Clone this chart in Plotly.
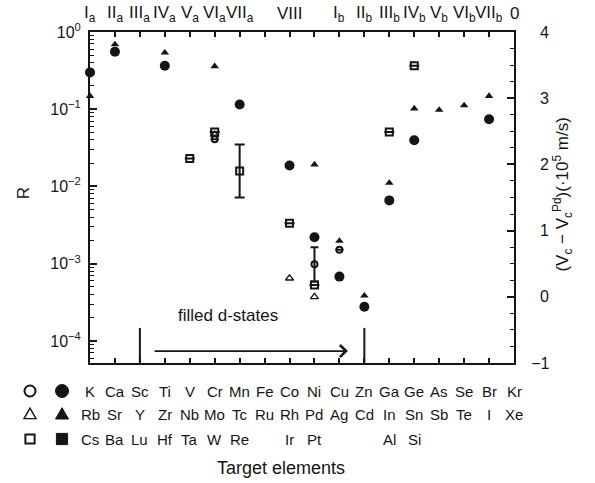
import plotly.graph_objects as go

# ---- element table (columns = periodic-table groups) ----
period4 = ["K", "Ca", "Sc", "Ti", "V", "Cr", "Mn", "Fe", "Co", "Ni", "Cu", "Zn",
           "Ga", "Ge", "As", "Se", "Br", "Kr"]
period5 = ["Rb", "Sr", "Y", "Zr", "Nb", "Mo", "Tc", "Ru", "Rh", "Pd", "Ag", "Cd",
           "In", "Sn", "Sb", "Te", "I", "Xe"]
period6 = ["Cs", "Ba", "Lu", "Hf", "Ta", "W", "Re", "", "Ir", "Pt", "", "",
           "Al", "Si", "", "", "", ""]
group_labels = ["I<sub>a</sub>", "II<sub>a</sub>", "III<sub>a</sub>", "IV<sub>a</sub>",
                "V<sub>a</sub>", "VI<sub>a</sub>", "VII<sub>a</sub>", "VIII",
                "I<sub>b</sub>", "II<sub>b</sub>", "III<sub>b</sub>", "IV<sub>b</sub>",
                "V<sub>b</sub>", "VI<sub>b</sub>", "VII<sub>b</sub>", "0"]
group_cols = [0, 1, 2, 3, 4, 5, 6, 8, 10, 11, 12, 13, 14, 15, 16, 17]

# ---- R (left axis): filled symbols ----
circ_targets = ["K", "Ca", "Ti", "Mn", "Co", "Ni", "Cu", "Zn", "Ga", "Ge", "Br"]
circ_R = [0.30, 0.555, 0.365, 0.115, 0.0187, 0.0022, 0.00068, 0.000277,
          0.0066, 0.0396, 0.074]
tri_targets = ["Rb", "Sr", "Zr", "Mo", "Pd", "Ag", "Cd", "In", "Sn", "Sb", "Te", "I"]
tri_R = [0.148, 0.69, 0.54, 0.36, 0.0192, 0.00197, 0.000385, 0.0111,
         0.102, 0.098, 0.112, 0.148]

# ---- velocity difference (right axis): open symbols ----
ocirc_targets = ["Cr", "Ni", "Cu"]
ocirc_dv = [2.38, 0.49, 0.71]
ocirc_err = [None, 0.26, None]
otri_targets = ["Mo", "Rh", "Pd"]
otri_dv = [2.45, 0.28, 0.0]
osq_targets = ["Ta", "W", "Re", "Ir", "Pt", "Al", "Si"]
osq_dv = [2.09, 2.49, 1.90, 1.11, 0.18, 2.49, 3.49]
osq_err = [None, None, 0.40, None, None, None, None]

left_ticks = [1e-4, 1e-3, 1e-2, 1e-1, 1]
left_ticktext = ["10<sup>−4</sup>", "10<sup>−3</sup>", "10<sup>−2</sup>",
                 "10<sup>−1</sup>", "10<sup>0</sup>"]
right_ticks = [-1, 0, 1, 2, 3, 4]
right_ticktext = ["−1", "\u20070", "\u20071", "\u20072", "\u20073", "\u20074"]

INK = "#151515"
FONT = "Liberation Sans, Arial, Helvetica, sans-serif"

# frame geometry in pixels (used for the symbol key beside the table)
PLOT_L, PLOT_R, PLOT_T, PLOT_B = 90, 514, 32, 363


def col(name):
    for row in (period4, period5, period6):
        if name in row:
            return row.index(name)


def px_to_paper(px, py):
    return ((px - PLOT_L) / (PLOT_R - PLOT_L), (PLOT_B - py) / (PLOT_B - PLOT_T))


fig = go.Figure()

fig.add_trace(go.Scatter(
    x=[col(t) for t in circ_targets], y=circ_R, mode="markers",
    marker=dict(symbol="circle", size=10, color=INK), cliponaxis=False,
    showlegend=False))
fig.add_trace(go.Scatter(
    x=[col(t) for t in tri_targets], y=tri_R, mode="markers",
    marker=dict(symbol="triangle-up", size=7.5, color=INK), cliponaxis=False,
    showlegend=False))

fig.add_trace(go.Scatter(
    x=[col(t) for t in osq_targets], y=osq_dv, yaxis="y2", mode="markers",
    marker=dict(symbol="square-open", size=7, color=INK, line=dict(width=2)),
    error_y=dict(type="data", array=osq_err, color=INK, thickness=2, width=5),
    cliponaxis=False, showlegend=False))
fig.add_trace(go.Scatter(
    x=[col(t) for t in otri_targets], y=otri_dv, yaxis="y2", mode="markers",
    marker=dict(symbol="triangle-up-open", size=7, color=INK, line=dict(width=1.3)),
    cliponaxis=False, showlegend=False))
fig.add_trace(go.Scatter(
    x=[col(t) for t in ocirc_targets], y=ocirc_dv, yaxis="y2", mode="markers",
    marker=dict(symbol="circle-open", size=6, color=INK, line=dict(width=2)),
    error_y=dict(type="data", array=ocirc_err, color=INK, thickness=2, width=4),
    cliponaxis=False, showlegend=False))

# symbol key beside the element table: pixel-sized shapes anchored in paper space
key_rows_py = [391, 414, 439]
key_cols_px = [30, 62]
key_paths = [
    # (open, filled) per row: circle, triangle, square
    ("circle", 5.5, 6.5),
    ("M-6,-4.6 L6,-4.6 L0,5.8 Z", "M-6.5,-5 L6.5,-5 L0,6.3 Z"),
    ("M-4.6,-4.6 H4.6 V4.6 H-4.6 Z", "M-5.6,-5.6 H5.6 V5.6 H-5.6 Z"),
]
for r, py in enumerate(key_rows_py):
    for k, px in enumerate(key_cols_px):
        xa, ya = px_to_paper(px, py)
        filled = k == 1
        common = dict(xref="paper", yref="paper", xsizemode="pixel", ysizemode="pixel",
                      xanchor=xa, yanchor=ya,
                      line=dict(color=INK, width=(1 if filled else (1.4 if r == 1 else 2))),
                      fillcolor=INK if filled else "rgba(0,0,0,0)")
        if r == 0:
            rad = key_paths[0][2] if filled else key_paths[0][1]
            fig.add_shape(type="circle", x0=-rad, x1=rad, y0=-rad, y1=rad, **common)
        else:
            fig.add_shape(type="path", path=key_paths[r][1 if filled else 0], **common)

# separators and the "filled d-states" arrow (right-axis units)
for c in (2, 11):
    fig.add_shape(type="line", xref="x", yref="y2", x0=c, x1=c, y0=-1, y1=-0.47,
                  line=dict(color=INK, width=2))
fig.add_annotation(x=10.34, y=-0.82, ax=2.53, ay=-0.82, xref="x", yref="y2",
                   axref="x", ayref="y2", text="", showarrow=True, arrowhead=4,
                   arrowsize=1.3, arrowwidth=1.8, arrowcolor=INK)
fig.add_annotation(x=5.53, y=-0.275, xref="x", yref="y2", text="filled d-states",
                   showarrow=False, xanchor="center", yanchor="middle",
                   font=dict(size=17, color=INK, family=FONT))

# group labels above the frame
for lab, c in zip(group_labels, group_cols):
    fig.add_annotation(x=c, y=1.055, xref="x", yref="paper", text=lab,
                       showarrow=False, xanchor="center", yanchor="middle",
                       font=dict(size=17, color=INK, family=FONT))

# element table below the frame
for row, py in zip((period4, period5, period6), key_rows_py):
    yp = px_to_paper(0, py)[1]
    for i, name in enumerate(row):
        if name:
            fig.add_annotation(x=i, y=yp, xref="x", yref="paper", text=name,
                               showarrow=False, xanchor="center", yanchor="middle",
                               font=dict(size=15, color=INK, family=FONT))

fig.add_annotation(x=0.45, y=-0.318, xref="paper", yref="paper",
                   text="Target elements", showarrow=False,
                   xanchor="center", yanchor="middle",
                   font=dict(size=18, color=INK, family=FONT))
fig.add_annotation(x=-0.157, y=0.514, xref="paper", yref="paper", text="R",
                   textangle=-90, showarrow=False, xanchor="center", yanchor="middle",
                   font=dict(size=17, color=INK, family=FONT))
fig.add_annotation(x=1.115, y=0.508, xref="paper", yref="paper",
                   text="(V<sub>c</sub> − V<sub>c</sub><sup>Pd</sup>)(·10<sup>5</sup> m/s)",
                   textangle=-90, showarrow=False, xanchor="center", yanchor="middle",
                   font=dict(size=17, color=INK, family=FONT))

minor_vals = [k * 10.0 ** d for d in range(-5, 0) for k in range(2, 10)
              if k * 10.0 ** d >= 10 ** -4.286]

fig.update_layout(
    width=595, height=483,
    margin=dict(l=PLOT_L, r=595 - PLOT_R, t=PLOT_T, b=483 - PLOT_B),
    paper_bgcolor="white", plot_bgcolor="white",
    font=dict(family=FONT, color=INK, size=16),
    xaxis=dict(range=[0, 17], tickmode="array", tickvals=list(range(18)),
               showticklabels=False, ticks="inside", ticklen=5, tickwidth=1.5,
               tickcolor=INK, showline=True, linewidth=2, linecolor=INK,
               mirror="ticks", showgrid=False, zeroline=False),
    yaxis=dict(type="log", range=[-4.286, 0], tickmode="array",
               tickvals=left_ticks, ticktext=left_ticktext, ticks="inside",
               ticklen=7, tickwidth=1.5, tickcolor=INK, showline=True,
               linewidth=2, linecolor=INK, showgrid=False, zeroline=False,
               ticklabelstandoff=4, tickfont=dict(size=16),
               minor=dict(tickmode="array", tickvals=minor_vals, ticks="inside",
                          ticklen=4, tickwidth=1.2, tickcolor=INK, showgrid=False)),
    yaxis2=dict(range=[-1, 4], overlaying="y", side="right", tickmode="array",
                tickvals=right_ticks, ticktext=right_ticktext, ticks="inside",
                ticklen=7, tickwidth=1.5, tickcolor=INK, showline=True,
                linewidth=2, linecolor=INK, showgrid=False, zeroline=False,
                ticklabelstandoff=12, tickfont=dict(size=16),
                minor=dict(dtick=0.25, tick0=0, ticks="inside", ticklen=4,
                           tickwidth=1.2, tickcolor=INK, showgrid=False)),
)

fig.write_html("out.html")
